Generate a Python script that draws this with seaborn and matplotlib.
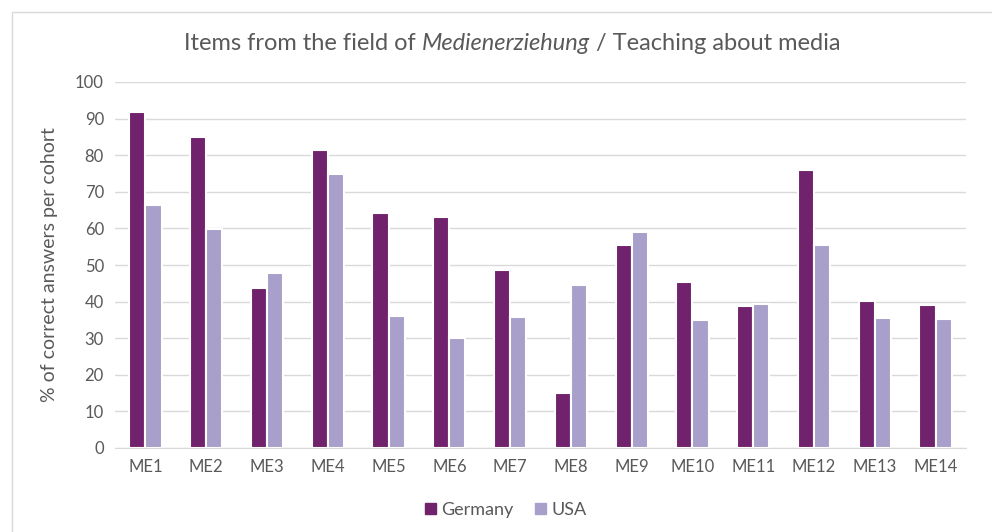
import pandas as pd
import matplotlib.pyplot as plt
import seaborn as sns
from matplotlib.patches import Rectangle

# Data
items = ["ME1", "ME2", "ME3", "ME4", "ME5", "ME6", "ME7",
         "ME8", "ME9", "ME10", "ME11", "ME12", "ME13", "ME14"]
germany = [91.8, 84.9, 43.7, 81.5, 64.3, 63.0, 48.5,
           15.1, 55.6, 45.4, 38.9, 76.0, 40.2, 39.2]
usa = [66.5, 59.8, 47.8, 74.9, 36.1, 30.1, 35.7,
       44.6, 59.0, 35.0, 39.4, 55.6, 35.6, 35.2]
series = ["Germany", "USA"]
colors = ["#70226D", "#A99FCB"]
yticks = [0, 10, 20, 30, 40, 50, 60, 70, 80, 90, 100]

df = pd.DataFrame({"item": items * 2,
                   "country": ["Germany"] * len(items) + ["USA"] * len(items),
                   "value": germany + usa})

sns.set_style("white")
plt.rcParams["font.family"] = ["Lato", "DejaVu Sans"]
text_grey = "#595959"

fig = plt.figure(figsize=(9.92, 5.32), dpi=100)
ax = fig.add_axes([115 / 992, 1 - 448 / 532, 851 / 992, 366 / 532])

sns.barplot(data=df, x="item", y="value", hue="country", hue_order=series,
            palette=colors, width=0.53, edgecolor="white", linewidth=1.5,
            saturation=1, ax=ax, legend=False)

ax.set_ylim(0, 100)
ax.set_xlim(-0.5, len(items) - 0.5)
ax.set_yticks(yticks)
ax.yaxis.grid(True, color="#D9D9D9", linewidth=1)
ax.set_axisbelow(True)
for s in ["top", "right", "left"]:
    ax.spines[s].set_visible(False)
ax.spines["bottom"].set_color("#D9D9D9")
ax.tick_params(axis="both", length=0, labelsize=12, colors=text_grey, pad=8)
ax.set_xlabel("")
ax.set_ylabel("% of correct answers per cohort", fontsize=14, color=text_grey, labelpad=12)

# legend
handles = [Rectangle((0, 0), 1, 1, color=c) for c in colors]
fig.legend(handles, series, loc="center", bbox_to_anchor=(0.51, 1 - 510 / 532),
           ncol=2, frameon=False, fontsize=13, labelcolor=text_grey,
           handlelength=0.6, handleheight=0.6, handletextpad=0.3, columnspacing=1.2)

# title with italic part
parts = [("Items from the field of ", "normal"), ("Medienerziehung", "italic"),
         (" / Teaching about media", "normal")]
fig.canvas.draw()
r = fig.canvas.get_renderer()
txts = []
for s, st in parts:
    t = fig.text(0, 1 - 44 / 532, s, fontsize=17, style=st, color=text_grey, va="center")
    txts.append(t)
widths = [t.get_window_extent(r).width for t in txts]
x = 512 - sum(widths) / 2
for t, w in zip(txts, widths):
    t.set_x(x / 992)
    x += w

# outer border
fig.add_artist(Rectangle((12 / 992, -0.1), 1.2, 1 - 12 / 532 + 0.1, transform=fig.transFigure,
                         fill=False, edgecolor="#D9D9D9", linewidth=1))

fig.savefig("out.png", dpi=100)
